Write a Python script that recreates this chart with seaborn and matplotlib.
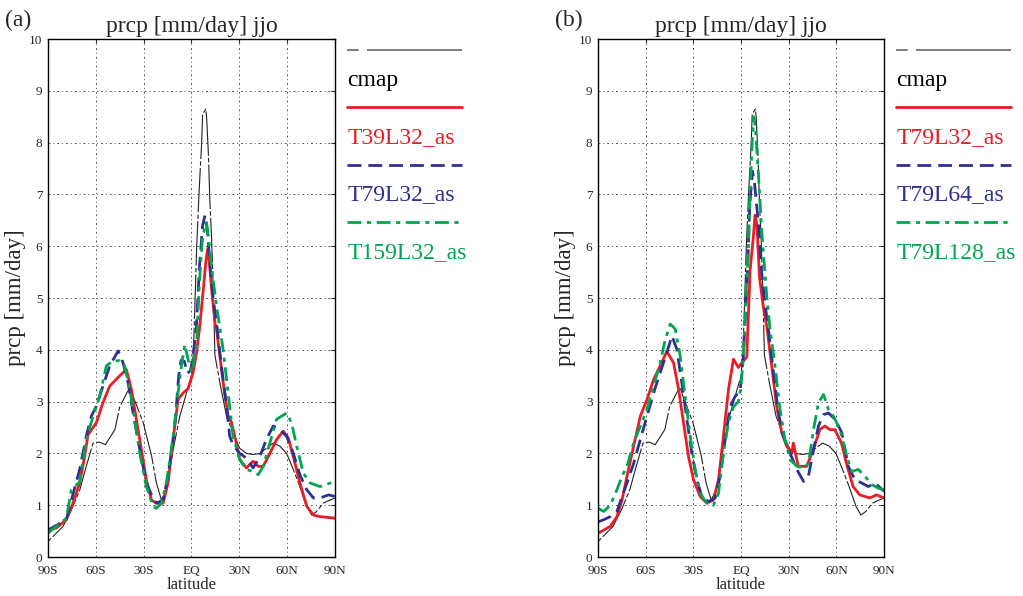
import matplotlib
matplotlib.use("Agg")
import matplotlib.pyplot as plt
import seaborn as sns
from matplotlib.lines import Line2D

# observed (shared by both panels)
cmap_lat = [-90, -80.6, -75.3, -70, -66, -61.7, -58, -54, -48, -45, -40, -38, -36.6, -30.3, -25, -22, -18.8,
            -15.7, -11.5, -7.3, -3.1, 0, 1.2, 2.2, 3.3, 4.7, 6.4, 7.0, 9.0, 9.5, 10.6, 11.6, 12.6, 13.7,
            14.7, 17.8, 22, 26, 30.3, 34.5, 38.7, 42.9, 47, 51.3, 55.5, 59.7, 63.9, 68, 72.3, 75.4, 78.5,
            82.7, 86.9, 90]
cmap_val = [0.30, 0.59, 0.91, 1.3, 1.75, 2.2, 2.22, 2.17, 2.46, 2.9, 3.2, 3.25, 3.1, 2.6, 1.95, 1.43, 1.1,
            1.3, 2.07, 2.72, 3.17, 3.5, 3.95, 4.9, 6.0, 7.0, 8.0, 8.55, 8.65, 8.5, 7.8, 6.83, 6.18, 5.15,
            3.9, 3.37, 2.72, 2.4, 2.1, 2.0, 1.98, 2.0, 2.1, 2.2, 2.14, 2.0, 1.69, 1.36, 0.98, 0.81, 0.88,
            1.04, 1.1, 1.14]

# panel (a)
t39_lat = [-90, -84.8, -78.5, -74.3, -70.1, -67, -64.9, -59.7, -55.5, -51.3, -45, -40.8, -37.7, -34.5, -31.4,
           -28.3, -25.1, -22, -17.8, -14.7, -11.5, -8.4, -5.2, -2.1, 1.0, 3, 5, 7.4, 9, 10.2, 11.5, 12.7,
           14.8, 15.7, 17.8, 19.9, 23, 25.1, 27.2, 30.3, 34.5, 38.7, 41.9, 45, 49.2, 53.4, 57.6, 60.7,
           63.9, 68, 72.3, 76.5, 80.7, 90]
t39_val = [0.52, 0.56, 0.72, 1.04, 1.43, 1.94, 2.36, 2.59, 2.98, 3.3, 3.5, 3.62, 3.24, 2.65, 2.07,
           1.49, 1.1, 1.04, 1.04, 1.43, 2.27, 3.04, 3.17, 3.25, 3.56, 3.9, 4.4, 5.15, 5.7, 5.95, 5.6, 5.15,
           4.5, 4.4, 3.88, 3.37, 2.72, 2.6, 2.33, 1.88, 1.72, 1.85, 1.75, 1.75, 2.0, 2.27, 2.43, 2.3,
           1.94, 1.43, 0.98, 0.81, 0.78, 0.75]

t79a_lat = [-90, -78.5, -75.3, -70.1, -66, -62.8, -59.7, -55.5, -51.3, -46, -42.9, -39.8, -36.6, -32.4,
            -28.3, -25, -22, -17.8, -14.7, -11.5, -10, -8, -6.5, -4.5, -2.5, -0.5, 1, 3, 5, 7, 8.5, 10,
            12, 14, 15.7, 18.8, 22, 24, 26.1, 30.3, 34.5, 38.7, 42.9, 47, 51.3, 55.5, 59.7, 63.9, 68,
            72.3, 76.5, 80.7, 86, 90]
t79a_val = [0.52, 0.72, 1.1, 1.69, 2.33, 2.72, 2.91, 3.3, 3.69, 3.98, 3.75, 3.37, 2.78, 2.07,
            1.43, 1.2, 1.04, 1.1, 1.56, 2.27, 2.7, 3.5, 3.8, 3.78, 3.55, 3.6, 3.9, 4.4, 5.6, 6.4, 6.6, 6.3,
            5.5, 4.9, 4.53, 3.69, 2.91, 2.33, 2.17, 2.0, 1.91, 1.72, 1.94, 2.27, 2.53, 2.46, 2.33, 2.0, 1.59,
            1.3, 1.14, 1.14, 1.2, 1.17]

t159_lat = [-90, -78.5, -75.3, -70.1, -66, -61.7, -57.6, -53.4, -49.2, -45, -41.9, -38.7, -35.6, -32.4,
            -28.3, -24.1, -22, -18.8, -15.7, -11.5, -8.4, -6.3, -4.2, -2.1, 0, 3.1, 5, 7, 9.5, 11, 13,
            15.7, 19.9, 23, 26.1, 30.3, 34.5, 38.7, 41.9, 45, 49.2, 53.4, 59.7, 62.8, 66, 70.2, 74.4,
            80.7, 87, 90]
t159_val = [0.46, 0.75, 1.3, 1.45, 2.27, 2.72, 3.1, 3.69, 3.79, 3.79, 3.69, 3.24, 2.66, 2.0,
            1.36, 0.98, 0.94, 1.04, 1.43, 2.33, 3.17, 3.69, 4.1, 3.82, 3.56, 4.01, 5.3, 6.2, 6.45, 6.1, 5.5,
            4.85, 4.0, 3.17, 2.33, 1.88, 1.69, 1.65, 1.59, 1.75, 2.2, 2.66, 2.78, 2.59, 2.14, 1.62, 1.43,
            1.36, 1.43, 1.52]

# panel (b)
l32_lat = [-90, -86.4, -82.3, -78.1, -74.9, -71.8, -67.6, -63.4, -59.2, -55, -50.9, -46.7, -42.5, -39.3,
           -36.2, -33.1, -29.9, -25.7, -21.6, -17.4, -14.2, -11.1, -7.9, -4.8, -1.7, 0.4, 3.6, 5.7, 7.7,
           8.8, 10, 11.6, 13.7, 16.2, 19.3, 22.4, 25.6, 28.7, 31.9, 32.9, 36, 41.3, 45.4, 49.6, 52.7,
           55.9, 59, 63.2, 66.3, 70.5, 74.7, 81, 85.2, 90]
l32_val = [0.46, 0.52, 0.59, 0.78, 1.1, 1.56, 2.14, 2.72, 3.04, 3.43, 3.69, 3.97, 3.75, 3.24,
           2.59, 1.94, 1.49, 1.17, 1.04, 1.1, 1.49, 2.33, 3.24, 3.82, 3.66, 3.75, 3.86, 5.54, 6.17,
           6.6, 6.4, 5.4, 4.9, 4.45, 3.69, 2.91, 2.4, 2.14, 2.0, 2.2, 1.75, 1.75, 2.07, 2.46, 2.53,
           2.46, 2.46, 2.2, 1.81, 1.36, 1.2, 1.14, 1.2, 1.14]

l64_lat = [-90, -86.4, -82.3, -78.1, -74.9, -71.8, -67.6, -63.4, -59.2, -55, -50.9, -46.7, -43.5, -40.4,
           -37.3, -34.1, -31, -27.8, -24.7, -20.5, -16.3, -13.2, -10, -6.9, -3.8, -0.6, 1.5, 4, 5.5, 7.2,
           8.5, 10.9, 13, 15, 17.2, 20.4, 23.5, 26.7, 30.9, 35.1, 39.3, 42.4, 45.6, 48.7, 51.9, 55, 59.2,
           63.4, 67.5, 71.7, 75.9, 80.1, 84.3, 90]
l64_val = [0.68, 0.72, 0.78, 0.88, 1.17, 1.43, 1.81, 2.27, 2.72, 3.17, 3.56, 3.95, 4.27, 4.01,
           3.37, 2.66, 2.0, 1.49, 1.17, 1.07, 1.14, 1.56, 2.27, 2.9, 3.1, 3.2, 3.9, 5.5, 6.8, 7.45,
           7.2, 6.45, 5.48, 4.9, 4.4, 3.56, 2.78, 2.33, 2.0, 1.69, 1.46, 1.56, 2.07, 2.53, 2.75, 2.78, 2.66,
           2.4, 1.75, 1.49, 1.43, 1.36, 1.43, 1.27]

l128_lat = [-90, -86.4, -82.3, -78.1, -74.9, -71.8, -67.6, -63.4, -59.2, -55, -50.9, -47.7, -44.6, -41.4,
            -38.3, -35.2, -32, -28.9, -25.7, -21.6, -17.4, -14.2, -11.1, -7.9, -4.8, -1.7, 0, 1.5, 3, 4.6,
            5.7, 7, 8, 9, 10.9, 13, 16, 18.2, 21.4, 24.5, 27.6, 30.9, 35.1, 39.3, 42.4, 45.6, 48.7, 51.9,
            55, 58.1, 62.3, 66.5, 69.6, 73.8, 78, 82.1, 86.3, 90]
l128_val = [0.94, 0.88, 1.0, 1.3, 1.56, 1.75, 2.2, 2.53, 2.85, 3.3, 3.75, 4.2, 4.5, 4.4,
            3.88, 3.1, 2.33, 1.69, 1.23, 1.04, 1.0, 1.23, 2.0, 2.6, 2.9, 3.0, 3.3, 3.88, 5.0, 5.93,
            7.08, 8.0, 8.5, 8.3, 7.41, 6.3, 5.1, 4.4, 3.69, 2.85, 2.27, 1.88, 1.75, 1.72, 1.81, 2.46, 2.98,
            3.14, 2.85, 2.72, 2.46, 1.94, 1.65, 1.69, 1.56, 1.4, 1.33, 1.3]

lat_ticks = [-90, -60, -30, 0, 30, 60, 90]
lat_labels = ["90S", "60S", "30S", "EQ", "30N", "60N", "90N"]

RED, BLUE, GREEN, GREY = "#ec1c24", "#2e3192", "#00a651", "#222222"
cmap_ls = (0, (4, 2, 40, 2))
cmap_key_ls = (0, (7, 5, 100, 1))
blue_ls = (0, (5, 2.5))
green_ls = (0, (5, 2, 1.5, 2))

sns.set_style("white")
plt.rcParams["font.family"] = ["Liberation Serif", "DejaVu Serif"]

fig = plt.figure(figsize=(10.23, 5.96), dpi=100)
ax_a = fig.add_axes([0.0469, 0.0654, 0.2805, 0.869])
ax_b = fig.add_axes([0.5846, 0.0654, 0.2796, 0.869])

panels = [
    (ax_a, "(a)", [("T39L32_as", t39_lat, t39_val, RED, "-"),
                   ("T79L32_as", t79a_lat, t79a_val, BLUE, blue_ls),
                   ("T159L32_as", t159_lat, t159_val, GREEN, green_ls)]),
    (ax_b, "(b)", [("T79L32_as", l32_lat, l32_val, RED, "-"),
                   ("T79L64_as", l64_lat, l64_val, BLUE, blue_ls),
                   ("T79L128_as", l128_lat, l128_val, GREEN, green_ls)]),
]

for ax, tag, runs in panels:
    sns.lineplot(x=cmap_lat, y=cmap_val, ax=ax, color=GREY, lw=0.8, linestyle=cmap_ls)
    for name, la, va, col, ls in runs:
        sns.lineplot(x=la, y=va, ax=ax, color=col, lw=2.0, linestyle=ls)

    ax.set_xlim(-90, 90)
    ax.set_ylim(0, 10)
    ax.set_xticks(lat_ticks)
    ax.set_xticklabels(lat_labels)
    ax.set_yticks(range(0, 11))
    ax.tick_params(labelsize=9.5, direction="in", length=3, top=True, right=True)
    ax.tick_params(axis="x", pad=6)
    ax.tick_params(axis="y", pad=4)
    ax.grid(True, color="#555555", lw=0.7, linestyle=(0, (2, 3, 1, 3)))
    for s in ax.spines.values():
        s.set_color("black")
        s.set_linewidth(1.0)
    ax.set_xlabel("latitude", fontsize=12, labelpad=0)
    ax.set_ylabel("prcp [mm/day]", fontsize=16.5, labelpad=2)
    ax.set_title("prcp [mm/day] jjo", fontsize=17, pad=5)

    # hand-made legend: key line above coloured label
    keys = [("cmap", "#666666", cmap_key_ls, 1.2)] + [(r[0], r[3], r[4], 2.0) for r in runs]
    for i, (name, col, ls, w) in enumerate(keys):
        yl = 0.979 - i * 0.111
        ax.add_line(Line2D([1.043, 1.442], [yl, yl], transform=ax.transAxes, color=col,
                           lw=w, linestyle=ls, clip_on=False))
        ax.text(1.043, yl - 0.058, name, transform=ax.transAxes, color="black" if i == 0 else col,
                fontsize=17, va="center", ha="left")

    pos = ax.get_position()
    fig.text(pos.x0 - 0.042, 0.966, tag, fontsize=17, va="center", ha="left")

fig.savefig("out.png", dpi=100)
